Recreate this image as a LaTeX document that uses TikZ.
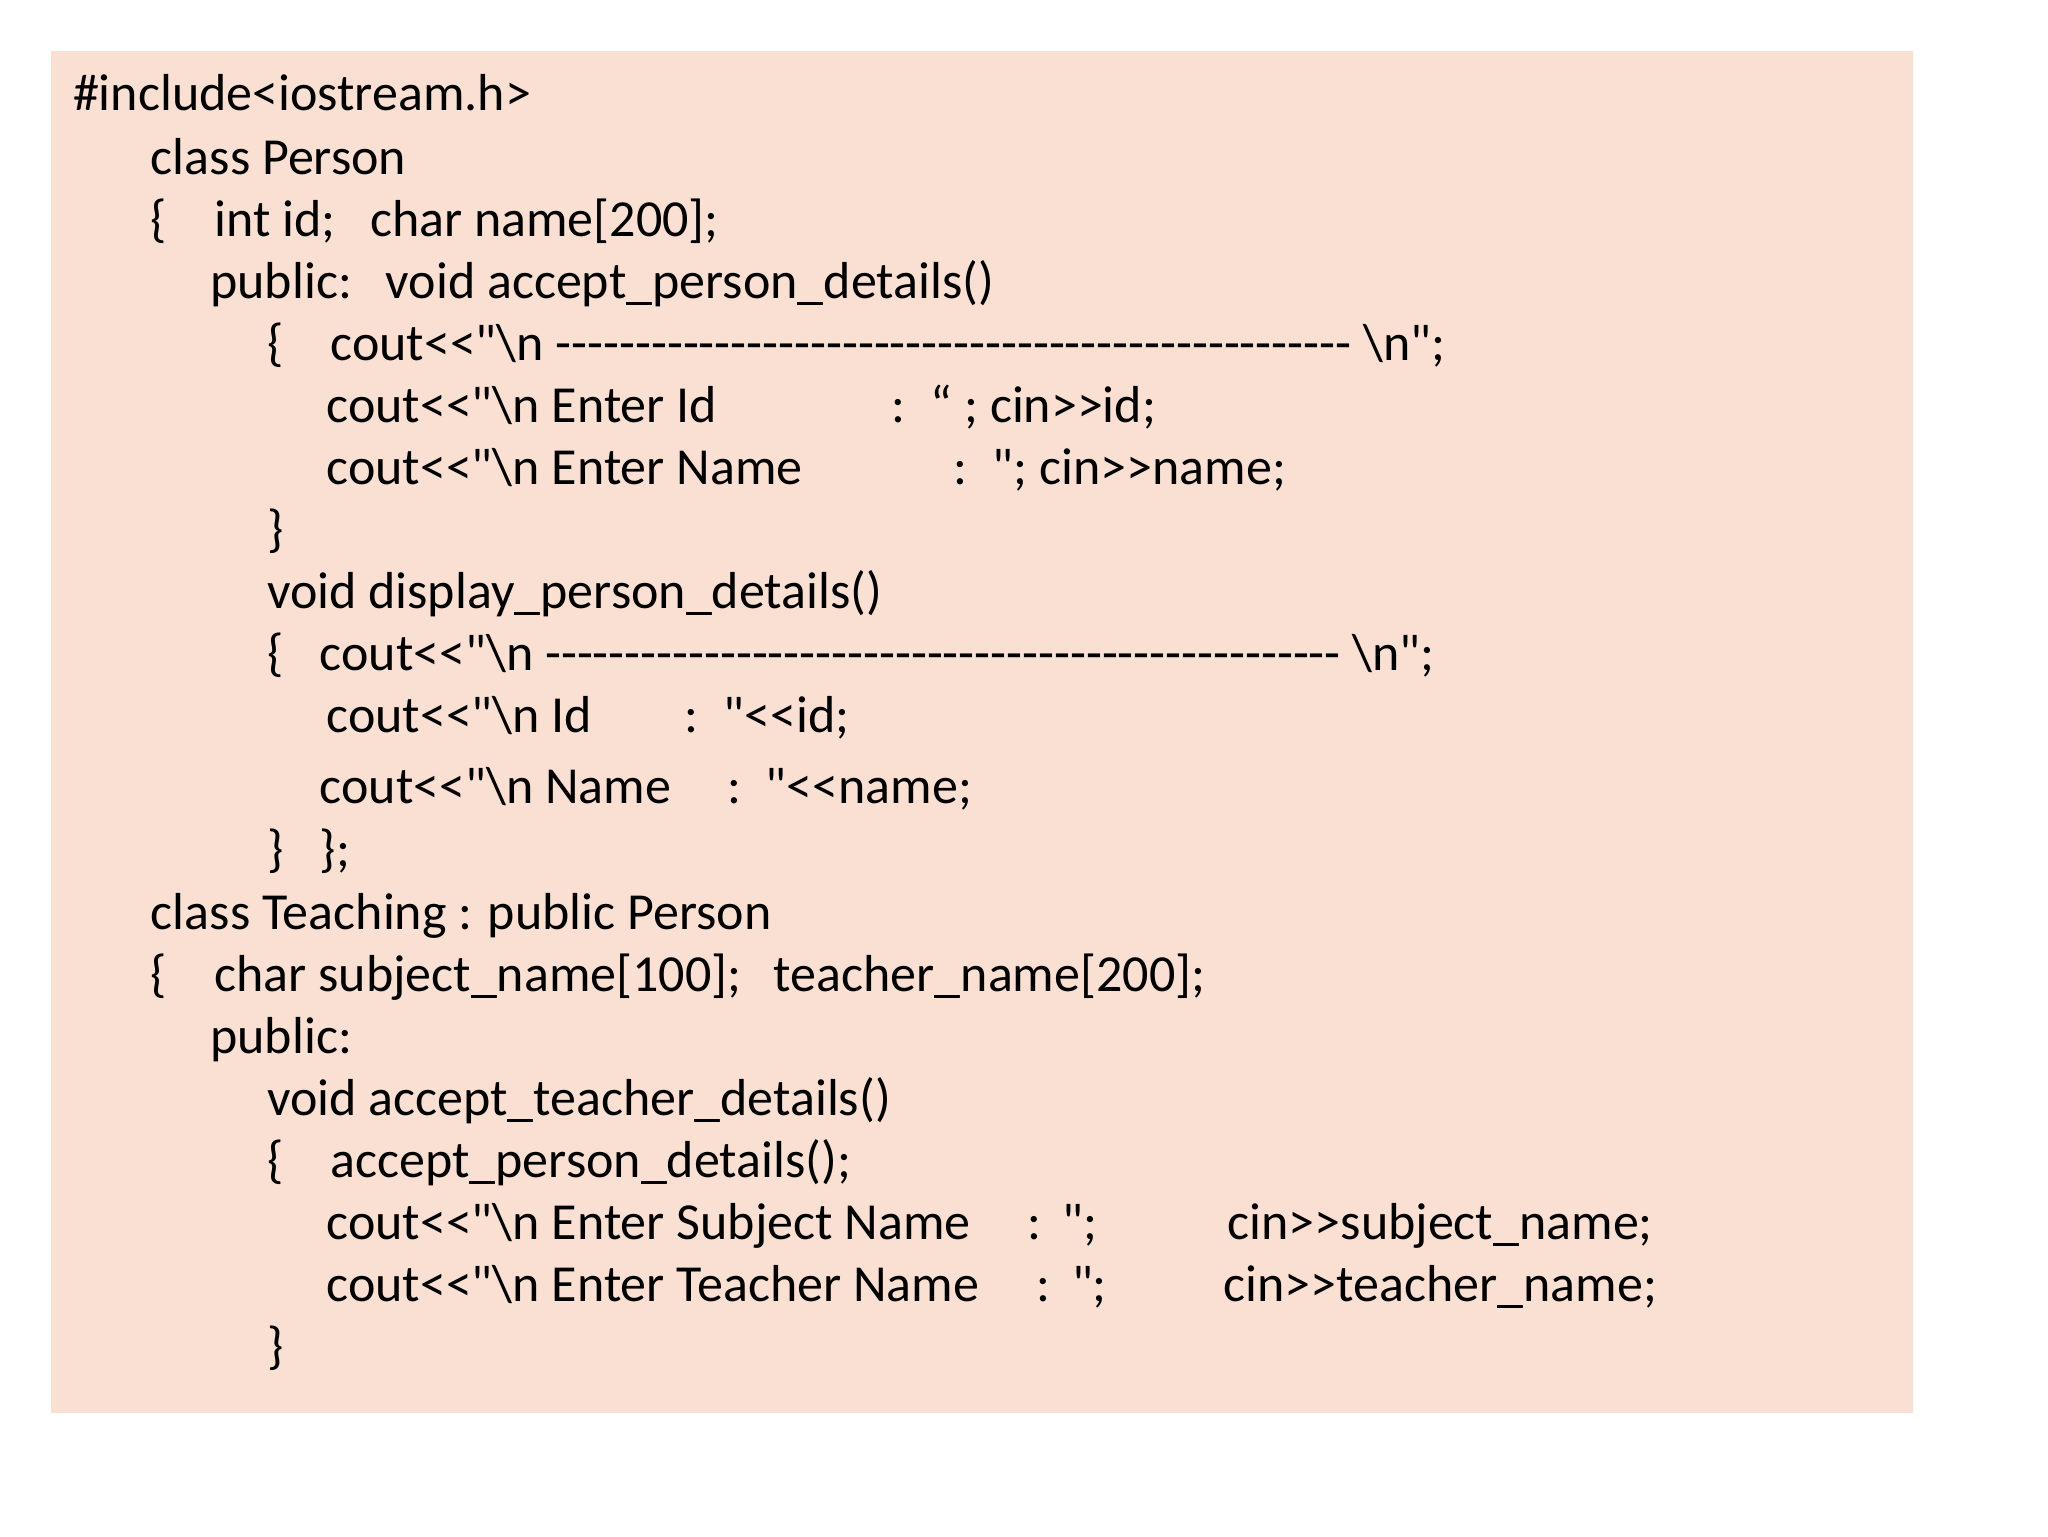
\documentclass[tikz,border=0pt]{standalone}
\usepackage{fontspec}
\newfontfamily\codefont{Carlito}
\definecolor{bg}{RGB}{250,224,210}
\newcommand\T[3]{\node[txt] at (#1,#2+11) {#3};}
\newcommand\bs{\textbackslash}
\begin{document}
\begin{tikzpicture}[x=0.5pt,y=-0.5pt,txt/.style={anchor=base west,inner sep=0pt,font=\codefont\fontsize{19.7}{24}\selectfont}]
\useasboundingbox (0,0) rectangle (1552,1164);
\fill[bg] (39,39) rectangle (1450,1071);
\T{55}{73}{\#include<iostream.h>}
\T{114}{121}{class Person}
\T{114}{168}{\{} \T{162}{168}{int id;} \T{280}{168}{char name[200];}
\T{159}{215}{public:} \T{292}{215}{void accept\_person\_details()}
\T{202}{262}{\{} \T{250}{262}{cout<<"\bs n -------------------------------------------------- \bs n";}
\T{247}{309}{cout<<"\bs n Enter Id} \T{675}{309}{:} \T{705}{309}{“ ; cin>>id;}
\T{247}{356}{cout<<"\bs n Enter Name} \T{722}{356}{:} \T{752}{356}{"; cin>>name;}
\T{202}{403}{\}}
\T{202}{450}{void display\_person\_details()}
\T{202}{497}{\{} \T{242}{497}{cout<<"\bs n -------------------------------------------------- \bs n";}
\T{247}{544}{cout<<"\bs n Id} \T{518}{544}{:} \T{548}{544}{"<<id;}
\T{242}{598}{cout<<"\bs n Name} \T{551}{598}{:} \T{580}{598}{"<<name;}
\T{202}{646}{\}} \T{242}{646}{\};}
\T{114}{693}{class Teaching : public Person}
\T{114}{740}{\{} \T{162}{740}{char subject\_name[100];} \T{586}{740}{teacher\_name[200];}
\T{159}{787}{public:}
\T{202}{834}{void accept\_teacher\_details()}
\T{202}{881}{\{} \T{250}{881}{accept\_person\_details();}
\T{247}{928}{cout<<"\bs n Enter Subject Name} \T{778}{928}{:} \T{805}{928}{";} \T{930}{928}{cin>>subject\_name;}
\T{247}{975}{cout<<"\bs n Enter Teacher Name} \T{785}{975}{:} \T{812}{975}{";} \T{927}{975}{cin>>teacher\_name;}
\T{202}{1022}{\}}
\end{tikzpicture}
\end{document}
